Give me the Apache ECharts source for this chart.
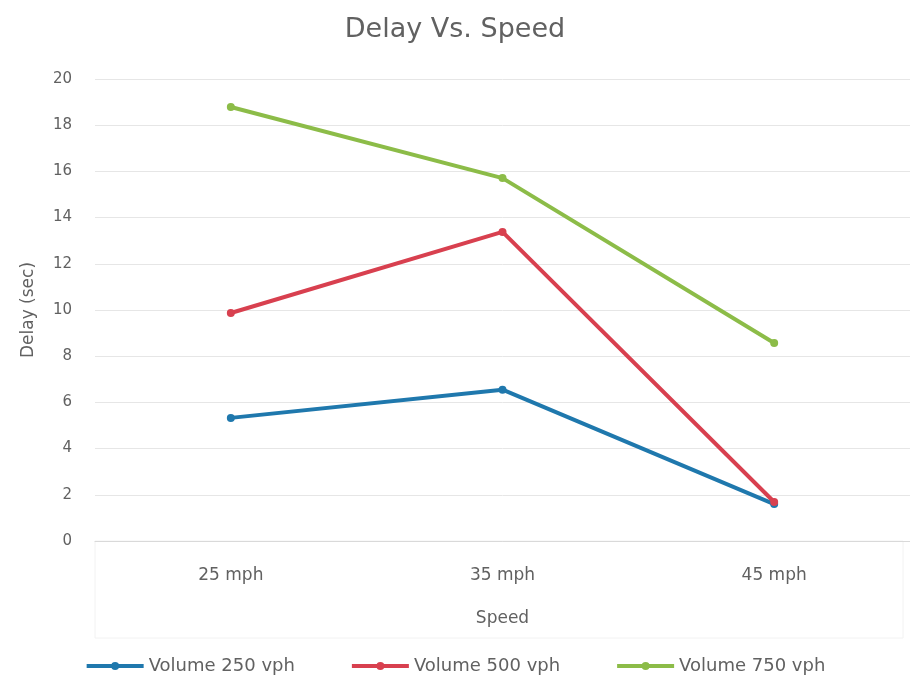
<!DOCTYPE html>
<html>
<head>
<meta charset="utf-8">
<script src="https://cdn.jsdelivr.net/npm/echarts@6/dist/echarts.min.js"></script>
<style>
  html, body { margin: 0; padding: 0; background: #ffffff; }
  #chart { width: 910px; height: 691px; }
</style>
</head>
<body>
<div id="chart"></div>
<script>
// Speed categories on the x axis
const speeds = ['25 mph', '35 mph', '45 mph'];

// Delay (sec) per traffic volume
const volume250 = [5.33, 6.55, 1.6];
const volume500 = [9.87, 13.38, 1.69];
const volume750 = [18.79, 15.71, 8.57];

const seriesNames = ['Volume 250 vph', 'Volume 500 vph', 'Volume 750 vph'];
const seriesColors = ['#1f78ad', '#d8404f', '#8cbc48'];
const seriesValues = [volume250, volume500, volume750];

const fontFamily = '"DejaVu Sans", sans-serif';
const textColor = '#616161';

const chart = echarts.init(document.getElementById('chart'));

chart.setOption({
  backgroundColor: '#ffffff',
  animation: false,
  title: {
    text: 'Delay Vs. Speed',
    left: 'center',
    top: 11,
    textStyle: { fontFamily, fontSize: 27, fontWeight: 'normal', color: textColor }
  },
  legend: {
    bottom: 11,
    left: 'center',
    itemWidth: 57,
    itemHeight: 10,
    itemGap: 55,
    data: seriesNames,
    lineStyle: { width: 4 },
    textStyle: { fontFamily, fontSize: 18, color: textColor }
  },
  grid: { left: 95, right: -7, top: 79, bottom: 150 },
  graphic: [{
    type: 'rect',
    shape: { x: 95, y: 541, width: 808, height: 97 },
    style: { fill: 'none', stroke: '#f2f2f2', lineWidth: 1 },
    silent: true
  }],
  xAxis: {
    type: 'category',
    data: speeds,
    boundaryGap: true,
    name: 'Speed',
    nameLocation: 'middle',
    nameGap: 69,
    nameTextStyle: { fontFamily, fontSize: 17, color: textColor },
    axisLine: { lineStyle: { color: '#d9d9d9' } },
    axisTick: { show: false },
    axisLabel: { fontFamily, fontSize: 17, color: textColor, margin: 26 }
  },
  yAxis: {
    type: 'value',
    min: 0,
    max: 20,
    interval: 2,
    name: 'Delay (sec)',
    nameLocation: 'middle',
    nameGap: 58,
    nameTextStyle: { fontFamily, fontSize: 17, color: textColor },
    axisLine: { show: false },
    axisTick: { show: false },
    axisLabel: { fontFamily, fontSize: 15, color: textColor, margin: 23 },
    splitLine: { lineStyle: { color: '#e6e6e6', width: 1 } }
  },
  series: seriesValues.map((vals, i) => ({
    name: seriesNames[i],
    type: 'line',
    data: vals,
    color: seriesColors[i],
    symbol: 'circle',
    symbolSize: 8,
    lineStyle: { width: 4, color: seriesColors[i] },
    itemStyle: { color: seriesColors[i] }
  }))
});
</script>
</body>
</html>
